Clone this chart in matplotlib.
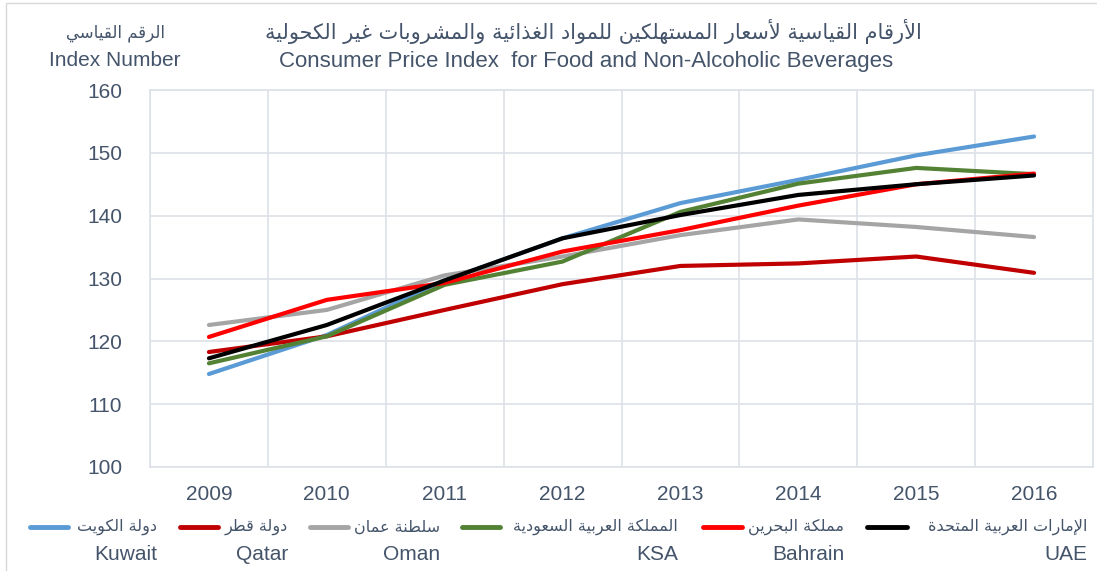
import matplotlib
matplotlib.use("Agg")
import matplotlib.pyplot as plt
from matplotlib.lines import Line2D
from matplotlib.patches import Rectangle

# ---------------- data ----------------
years = ["2009", "2010", "2011", "2012", "2013", "2014", "2015", "2016"]
kuwait = [114.8, 121.0, 129.7, 136.4, 142.0, 145.7, 149.6, 152.6]
qatar = [118.3, 120.8, 125.0, 129.1, 132.0, 132.4, 133.5, 130.9]
oman = [122.6, 125.0, 130.5, 133.5, 136.9, 139.4, 138.2, 136.6]
ksa = [116.5, 120.8, 129.0, 132.7, 140.6, 145.1, 147.6, 146.6]
bahrain = [120.7, 126.6, 129.3, 134.3, 137.7, 141.6, 145.0, 146.7]
uae = [117.3, 122.6, 129.7, 136.4, 140.1, 143.3, 145.0, 146.4]

names_ar = ["دولة الكويت", "دولة قطر", "سلطنة عمان", "المملكة العربية السعودية",
            "مملكة البحرين", "الإمارات العربية المتحدة"]
names_en = ["Kuwait", "Qatar", "Oman", "KSA", "Bahrain", "UAE"]
series = [kuwait, qatar, oman, ksa, bahrain, uae]
colors = ["#5B9BD5", "#C00000", "#A5A5A5", "#548235", "#FF0000", "#000000"]

title_ar = "الأرقام القياسية لأسعار المستهلكين للمواد الغذائية والمشروبات غير الكحولية"
title_en = "Consumer Price Index  for Food and Non-Alcoholic Beverages"
ylabel_ar = "الرقم القياسي"
ylabel_en = "Index Number"

# ---------------- Arabic shaping (presentation forms) ----------------
_F = {
    '\u0621': ('\uFE80',),
    '\u0622': ('\uFE81', '\uFE82'),
    '\u0623': ('\uFE83', '\uFE84'),
    '\u0624': ('\uFE85', '\uFE86'),
    '\u0625': ('\uFE87', '\uFE88'),
    '\u0626': ('\uFE89', '\uFE8A', '\uFE8B', '\uFE8C'),
    '\u0627': ('\uFE8D', '\uFE8E'),
    '\u0628': ('\uFE8F', '\uFE90', '\uFE91', '\uFE92'),
    '\u0629': ('\uFE93', '\uFE94'),
    '\u062A': ('\uFE95', '\uFE96', '\uFE97', '\uFE98'),
    '\u062B': ('\uFE99', '\uFE9A', '\uFE9B', '\uFE9C'),
    '\u062C': ('\uFE9D', '\uFE9E', '\uFE9F', '\uFEA0'),
    '\u062D': ('\uFEA1', '\uFEA2', '\uFEA3', '\uFEA4'),
    '\u062E': ('\uFEA5', '\uFEA6', '\uFEA7', '\uFEA8'),
    '\u062F': ('\uFEA9', '\uFEAA'),
    '\u0630': ('\uFEAB', '\uFEAC'),
    '\u0631': ('\uFEAD', '\uFEAE'),
    '\u0632': ('\uFEAF', '\uFEB0'),
    '\u0633': ('\uFEB1', '\uFEB2', '\uFEB3', '\uFEB4'),
    '\u0634': ('\uFEB5', '\uFEB6', '\uFEB7', '\uFEB8'),
    '\u0635': ('\uFEB9', '\uFEBA', '\uFEBB', '\uFEBC'),
    '\u0636': ('\uFEBD', '\uFEBE', '\uFEBF', '\uFEC0'),
    '\u0637': ('\uFEC1', '\uFEC2', '\uFEC3', '\uFEC4'),
    '\u0638': ('\uFEC5', '\uFEC6', '\uFEC7', '\uFEC8'),
    '\u0639': ('\uFEC9', '\uFECA', '\uFECB', '\uFECC'),
    '\u063A': ('\uFECD', '\uFECE', '\uFECF', '\uFED0'),
    '\u0641': ('\uFED1', '\uFED2', '\uFED3', '\uFED4'),
    '\u0642': ('\uFED5', '\uFED6', '\uFED7', '\uFED8'),
    '\u0643': ('\uFED9', '\uFEDA', '\uFEDB', '\uFEDC'),
    '\u0644': ('\uFEDD', '\uFEDE', '\uFEDF', '\uFEE0'),
    '\u0645': ('\uFEE1', '\uFEE2', '\uFEE3', '\uFEE4'),
    '\u0646': ('\uFEE5', '\uFEE6', '\uFEE7', '\uFEE8'),
    '\u0647': ('\uFEE9', '\uFEEA', '\uFEEB', '\uFEEC'),
    '\u0648': ('\uFEED', '\uFEEE'),
    '\u0649': ('\uFEEF', '\uFEF0'),
    '\u064A': ('\uFEF1', '\uFEF2', '\uFEF3', '\uFEF4'),
}
_LA = {'\u0622': ('\uFEF5', '\uFEF6'), '\u0623': ('\uFEF7', '\uFEF8'),
       '\u0625': ('\uFEF9', '\uFEFA'), '\u0627': ('\uFEFB', '\uFEFC')}


def shape(text):
    out = []
    n = len(text)
    i = 0
    while i < n:
        c = text[i]
        if c not in _F:
            out.append(c)
            i += 1
            continue
        prev = text[i - 1] if i > 0 else None
        pc = prev in _F and len(_F[prev]) == 4 and len(_F[c]) >= 2
        if c == '\u0644' and i + 1 < n and text[i + 1] in _LA:
            out.append(_LA[text[i + 1]][1 if pc else 0])
            i += 2
            continue
        nxt = text[i + 1] if i + 1 < n else None
        nc = len(_F[c]) == 4 and nxt in _F and len(_F[nxt]) >= 2
        forms = _F[c]
        if len(forms) == 1:
            g = forms[0]
        elif len(forms) == 2:
            g = forms[1] if pc else forms[0]
        else:
            g = forms[int(pc) + 2 * int(nc)]
        out.append(g)
        i += 1
    return "".join(reversed(out))


# ---------------- figure ----------------
W, H = 1097, 571
TXT = "#44546A"
GRID = "#DDE1E8"
plt.rcParams['font.family'] = ['Liberation Sans', 'DejaVu Sans']
AR_FAM = ['DejaVu Sans']

fig = plt.figure(figsize=(W / 100, H / 100), dpi=100)
fig.patch.set_facecolor("white")


def fx(px):
    return px / W


def fy(py):
    return 1 - py / H


# outer chart border (left/top visible)
fig.add_artist(Rectangle((fx(6), fy(H + 10)), fx(W + 10), (H + 7) / H,
                         transform=fig.transFigure, fill=False,
                         edgecolor="#D9D9D9", linewidth=1.0))

ax = fig.add_axes([fx(150), fy(467), fx(1093) - fx(150), fy(90) - fy(467)])
x = list(range(len(years)))
for vals, col in zip(series, colors):
    ax.plot(x, vals, color=col, linewidth=3.0, solid_capstyle='round',
            solid_joinstyle='round')

ax.set_xlim(-0.5, len(years) - 0.5)
ax.set_ylim(100, 160)
ax.set_yticks(range(100, 161, 10))
ax.set_xticks(x)
ax.set_xticklabels(years)
ax.set_xticks([i - 0.5 for i in range(len(years) + 1)], minor=True)
ax.grid(False)
ax.grid(True, which='minor', axis='x', color=GRID, linewidth=1.2)
ax.grid(True, which='major', axis='y', color=GRID, linewidth=1.2)
ax.tick_params(which='both', length=0)
ax.tick_params(axis='x', which='major', pad=13, labelsize=15, labelcolor=TXT)
ax.tick_params(axis='y', which='major', pad=20, labelsize=15, labelcolor=TXT)
for s in ax.spines.values():
    s.set_color(GRID)
    s.set_linewidth(1.2)

# titles
fig.text(fx(593), fy(32), shape(title_ar), ha='center', va='center',
         fontsize=15, color=TXT, family=AR_FAM)
fig.text(fx(586), fy(62), title_en, ha='center', va='center',
         fontsize=16, color=TXT)
fig.text(fx(116), fy(33), shape(ylabel_ar), ha='center', va='center',
         fontsize=12, color=TXT, family=AR_FAM)
fig.text(fx(115), fy(60), ylabel_en, ha='center', va='center',
         fontsize=15, color=TXT)

# legend
leg_pos = [(30, 68, 157), (180, 218, 288), (310, 348, 440),
           (462, 500, 678), (703, 742, 844), (867, 907, 1087)]
for (x0, x1, xe), col, nar, nen in zip(leg_pos, colors, names_ar, names_en):
    fig.add_artist(Line2D([fx(x0), fx(x1)], [fy(527), fy(527)],
                          transform=fig.transFigure, color=col, linewidth=3.5,
                          solid_capstyle='round'))
    fig.text(fx(xe), fy(527), shape(nar), ha='right', va='center',
             fontsize=11.5, color=TXT, family=AR_FAM)
    fig.text(fx(xe), fy(555), nen, ha='right', va='center',
             fontsize=15, color=TXT)

fig.savefig("out.png", dpi=100)
